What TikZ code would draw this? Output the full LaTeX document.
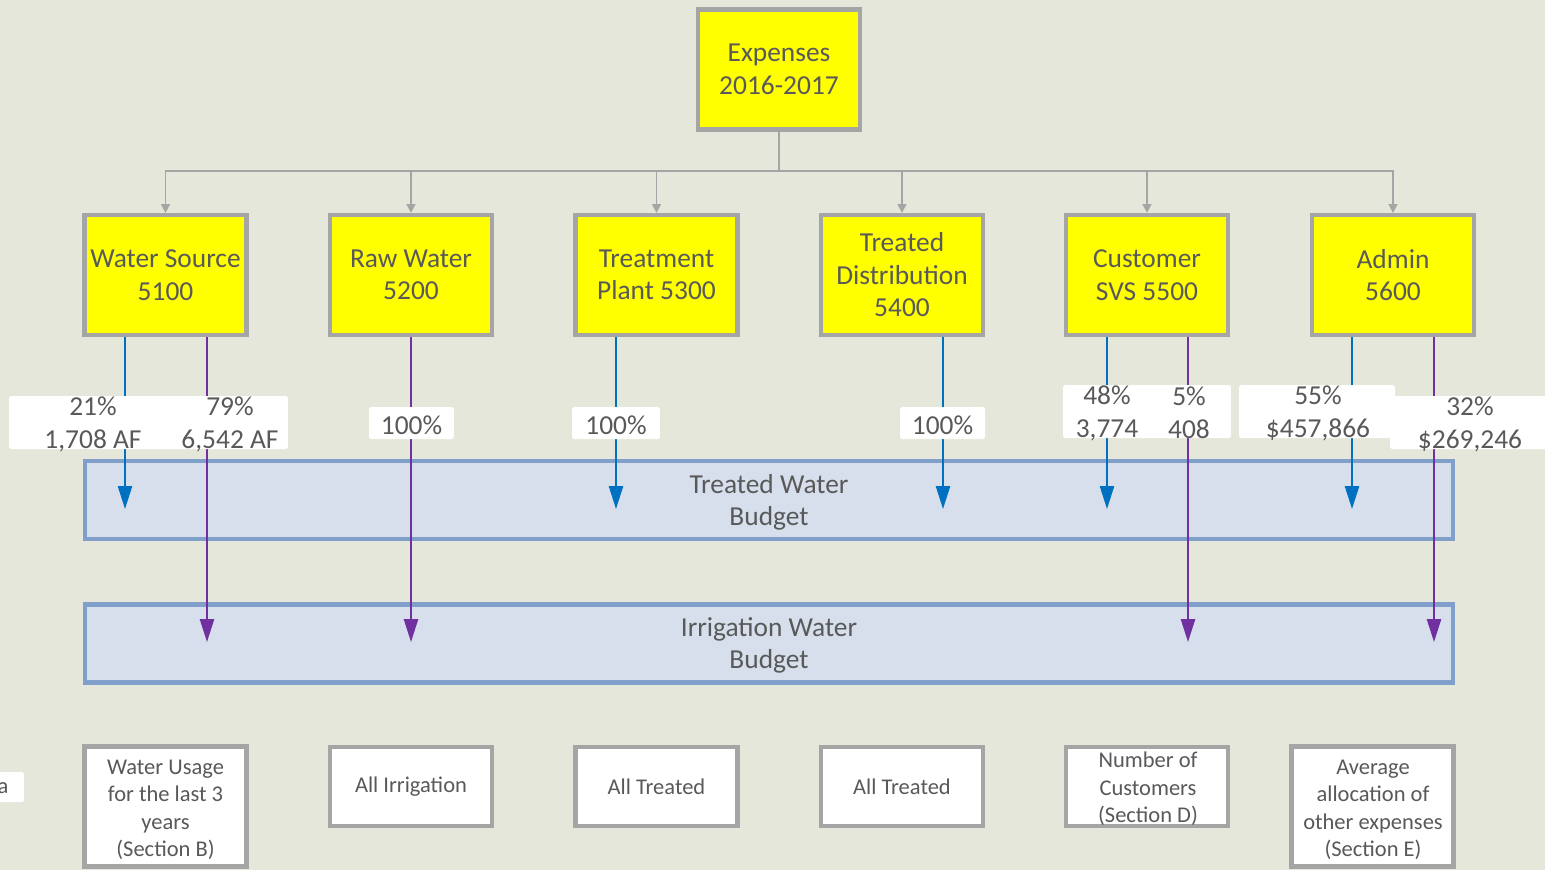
\documentclass[tikz,border=0pt]{standalone}
\usepackage{fontspec}
\setmainfont{Carlito}
\usetikzlibrary{arrows.meta}
\definecolor{bg}{HTML}{E4E7D9}
\definecolor{txt}{HTML}{595959}
\definecolor{ybox}{HTML}{FFFF00}
\definecolor{gbord}{HTML}{A5A5A5}
\definecolor{bfill}{HTML}{D6DFEB}
\definecolor{bbord}{HTML}{809FCB}
\definecolor{blu}{HTML}{0070C0}
\definecolor{pur}{HTML}{7030A0}
\begin{document}
\begin{tikzpicture}[x=0.02cm,y=-0.02cm,
 ybx/.style={draw=gbord, fill=ybox, line width=2.4pt, minimum width=3.24cm, minimum height=2.4cm, align=center, text=txt, font=\fontsize{15.6}{18.5}\selectfont, inner sep=0pt},
 wbx/.style={draw=gbord, fill=white, line width=2.4pt, minimum width=3.24cm, align=center, text=txt, font=\fontsize{12.8}{15.6}\selectfont, inner sep=0pt},
 bud/.style={draw=bbord, fill=bfill, line width=2.4pt, minimum width=27.38cm, minimum height=1.56cm, align=center, text=txt, font=\fontsize{15.6}{18.3}\selectfont},
 lbl/.style={fill=white, inner sep=0pt, rounded corners=1pt},
 num/.style={text=txt, font=\fontsize{15.6}{18.7}\selectfont, align=center, inner sep=0pt},
 conn/.style={draw=gbord, line width=1.1pt, -{Triangle[length=5pt,width=5pt]}},
 barr/.style={draw=blu, line width=1.2pt, -{Triangle[length=13pt,width=8pt]}},
 parr/.style={draw=pur, line width=1.2pt, -{Triangle[length=13pt,width=8pt]}},
]
\fill[bg] (0,0) rectangle (1545,870);
\useasboundingbox (0,0) rectangle (1545,870);

% budgets
\node[bud] (tw) at (769,500) {};
\node[text=txt, font=\fontsize{15.6}{18.3}\selectfont, align=center] at (769,502) {Treated Water\\Budget};
\node[bud] (iw) at (769,643.5) {};
\node[text=txt, font=\fontsize{15.6}{18.3}\selectfont, align=center] at (769,645.5) {Irrigation Water\\Budget};

% top and department boxes
\node[ybx] (top) at (779,69.5) {Expenses\\2016-2017};
\coordinate (bus) at (779,171);
\node[ybx] (ws) at (165.5,275) {Water Source\\5100};
\node[ybx] (rw) at (411,275) {Raw Water\\5200};
\node[ybx] (tp) at (656.5,275) {Treatment\\Plant 5300};
\node[ybx] (td) at (902,275) {Treated\\Distribution\\5400};
\node[ybx] (cs) at (1147,275) {Customer\\SVS 5500};
\node[ybx] (ad) at (1393,275) {Admin\\5600};

\foreach \n in {ws,rw,tp,td,cs,ad}
  \draw[conn] (top.south) |- (bus -| \n.north) -- (\n.north);

% arrow ends
\coordinate (b1) at (125,509);
\coordinate (p1) at (207,642);
\coordinate (p2) at (411,642);
\coordinate (b2) at (616,509);
\coordinate (b3) at (943,509);
\coordinate (b4) at (1107,509);
\coordinate (p3) at (1188,642);
\coordinate (b5) at (1352,509);
\coordinate (p4) at (1434,642);

\draw[barr] (ws.south -| b1) -- (b1);
\draw[parr] (ws.south -| p1) -- (p1);
\draw[parr] (rw.south -| p2) -- (p2);
\draw[barr] (tp.south -| b2) -- (b2);
\draw[barr] (td.south -| b3) -- (b3);
\draw[barr] (cs.south -| b4) -- (b4);
\draw[parr] (cs.south -| p3) -- (p3);
\draw[barr] (ad.south -| b5) -- (b5);
\draw[parr] (ad.south -| p4) -- (p4);

% labels
\node[lbl, minimum width=5.58cm, minimum height=1.06cm] (l1) at (148.5,422.5) {};
\node[num] (t21) at (93,424) {21\%\\1,708 AF};
\node[num] (t79) at (230,424) {79\%\\6,542 AF};
\node[lbl, minimum width=1.7cm, minimum height=0.64cm] (l2) at (411.5,423) {};
\node[num] at (411.5,425) {100\%};
\node[lbl, minimum width=1.76cm, minimum height=0.64cm] (l3) at (616,423) {};
\node[num] at (616,425) {100\%};
\node[lbl, minimum width=1.7cm, minimum height=0.64cm] (l4) at (942.5,423) {};
\node[num] at (942.5,425) {100\%};
\node[lbl, minimum width=3.36cm, minimum height=1.06cm] (l5) at (1147,411.5) {};
\node[num] (t48) at (1107,413) {48\%\\3,774};
\node[num] (t5) at (1189,413) {5\%\\408};
\node[lbl, minimum width=3.12cm, minimum height=1.06cm] (l6) at (1317,411.5) {};
\node[num] (t55) at (1318,413) {55\%\\\$457,866};
\node[lbl, minimum width=3.2cm, minimum height=1.06cm] (l7) at (1470,422.5) {};
\node[num] (t32) at (1470,424) {32\%\\\$269,246};

% bottom boxes
\node[wbx, minimum height=2.4cm] (s1) at (165.5,806.5) {};
\node[text=txt, font=\fontsize{12.8}{15.6}\selectfont, align=center, inner sep=0pt] at (165.5,810) {Water Usage\\for the last 3\\years\\(Section B)};
\node[wbx, minimum height=1.58cm] (s2) at (411,786.5) {All Irrigation};
\node[wbx, minimum height=1.58cm] (s3) at (656.5,786.5) {All Treated};
\node[wbx, minimum height=1.58cm] (s4) at (902,786.5) {All Treated};
\node[wbx, minimum height=1.58cm] (s5) at (1147,786.5) {};
\node[text=txt, font=\fontsize{12.8}{15.6}\selectfont, align=center, inner sep=0pt] at (1148,789) {Number of\\Customers\\(Section D)};
\node[wbx, minimum height=2.4cm] (s6) at (1372.5,806.5) {};
\node[text=txt, font=\fontsize{12.8}{15.6}\selectfont, align=center, inner sep=0pt] at (1373,810) {Average\\allocation of\\other expenses\\(Section E)};

% partial label at left edge
\node[lbl, minimum width=0.96cm, minimum height=0.6cm] (la) at (0,787) {};
\node[num, font=\fontsize{12.8}{15.6}\selectfont] at (3,788) {a};
\end{tikzpicture}
\end{document}
